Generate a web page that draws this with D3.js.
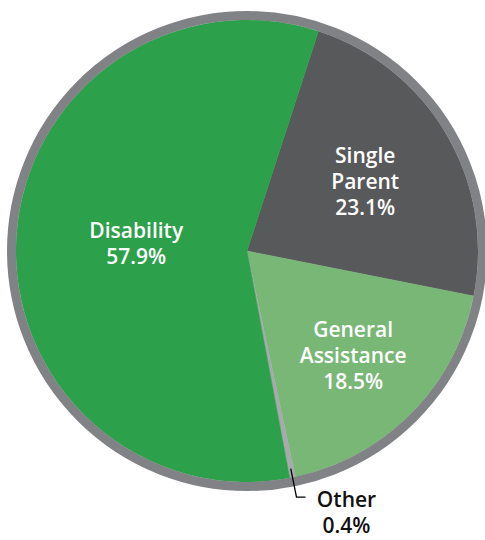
<!doctype html>
<html>
<head>
  <meta charset="utf-8">
  <title>Caseload by category</title>
  <script src="https://cdn.jsdelivr.net/npm/d3@7"></script>
  <style>
  body { margin: 0; background: #fff; }
  .label { font-family: "Open Sans", sans-serif; font-weight: 600; font-size: 21px; text-anchor: middle; }
  </style>
</head>
<body>
  <script>
  var categories = ["Single Parent", "General Assistance", "Other", "Disability"],
    labelLines = [["Single", "Parent"], ["General", "Assistance"], ["Other"], ["Disability"]],
    shares = [23.1, 18.5, 0.4, 57.9];

  var colors = ["#58595b", "#79b777", "#a7a9ac", "#2ca04a"],
    labelRadius = [137, 149, 0, 111],
    width = 485,
    height = 540,
    cx = 247,
    cy = 251,
    radius = 240,
    border = 9,
    lineHeight = 26;

  var data = categories.map(function(c, i) {
    return {name: c, lines: labelLines[i], value: shares[i], color: colors[i], lr: labelRadius[i]};
  });

  var svg = d3.select("body").append("svg")
      .attr("width", width)
      .attr("height", height);

  var g = svg.append("g")
      .attr("transform", "translate(" + cx + "," + cy + ")");

  var start = 18 * Math.PI / 180;
  var pie = d3.pie()
      .sort(null)
      .value(function(d) { return d.value; })
      .startAngle(start)
      .endAngle(start + 2 * Math.PI);

  var arc = d3.arc()
      .innerRadius(0)
      .outerRadius(radius - border);

  var arcs = pie(data);

  g.selectAll("path.slice")
    .data(arcs)
    .enter().append("path")
      .attr("class", "slice")
      .attr("fill", function(d) { return d.data.color; })
      .attr("stroke", function(d) { return d.data.color; })
      .attr("stroke-width", 0.5)
      .attr("d", arc);

  // outer ring
  g.append("circle")
    .attr("r", radius - border / 2)
    .attr("fill", "none")
    .attr("stroke", "#808285")
    .attr("stroke-width", border);

  function polar(a, r) {
    return [Math.sin(a) * r, -Math.cos(a) * r];
  }

  // labels inside the slices
  arcs.filter(function(d) { return d.data.lr > 0; }).forEach(function(d) {
    var mid = (d.startAngle + d.endAngle) / 2,
      p = polar(mid, d.data.lr),
      lines = d.data.lines.concat([d3.format(".1f")(d.data.value) + "%"]),
      first = p[1] + 7.5 - (lines.length - 1) / 2 * lineHeight;
    var t = g.append("text")
      .attr("class", "label")
      .attr("fill", "#fff");
    lines.forEach(function(l, i) {
      t.append("tspan")
        .attr("x", p[0])
        .attr("y", first + i * lineHeight)
        .text(l);
    });
  });

  // leader for the small slice
  var other = arcs[2],
    oMid = (other.startAngle + other.endAngle) / 2,
    p0 = polar(oMid, radius - 18),
    p1 = polar(oMid, radius + 11);

  g.append("path")
    .attr("fill", "none")
    .attr("stroke", "#000")
    .attr("stroke-width", 1.3)
    .attr("d", d3.line()([p0, p1, [p1[0] + 9, p1[1]]]));

  var ot = g.append("text")
    .attr("class", "label")
    .attr("fill", "#111");
  [other.data.lines[0], d3.format(".1f")(other.data.value) + "%"].forEach(function(l, i) {
    ot.append("tspan")
      .attr("x", p1[0] + 50)
      .attr("y", p1[1] + 10 + i * lineHeight)
      .text(l);
  });
  </script>
</body>
</html>
